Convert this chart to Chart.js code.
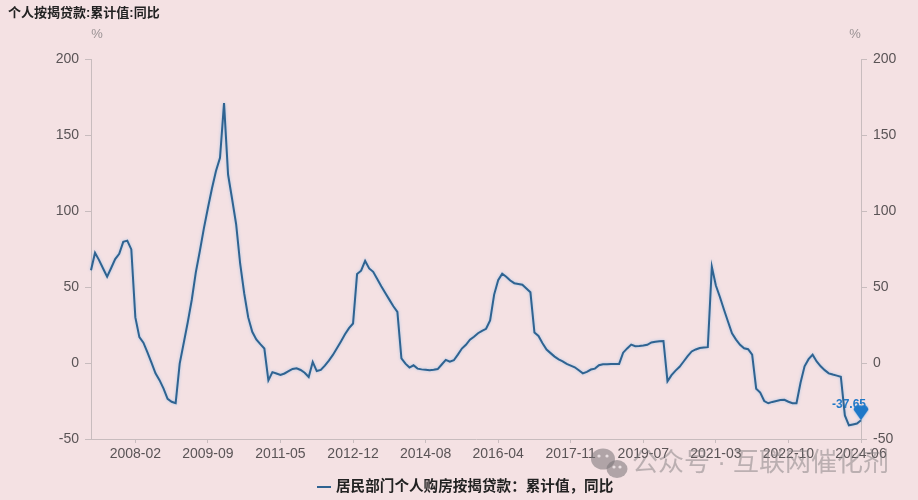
<!DOCTYPE html>
<html><head><meta charset="utf-8">
<script src="https://cdn.jsdelivr.net/npm/chart.js@4.4.1/dist/chart.umd.min.js"></script>
<style>html,body{margin:0;padding:0;background:#f4e1e3;overflow:hidden}#wrap{width:918px;height:500px;position:relative}</style>
</head><body><div id="wrap"><canvas id="c" width="918" height="500"></canvas></div>
<script>
const years = [2007,2008,2009,2010,2011,2012,2013,2014,2015,2016,2017,2018,2019,2020,2021,2022,2023,2024];
const months = ['02','03','04','05','06','07','08','09','10','11','12'];
const lastPeriod = '2024-06';
const categories = [];
for (const y of years) { for (const m of months) { const k = y + '-' + m; if (k > lastPeriod) break; categories.push(k); } }
const tickLabels = ['2008-02','2009-09','2011-05','2012-12','2014-08','2016-04','2017-11','2019-07','2021-03','2022-10','2024-06'];
const yTicks = [-50, 0, 50, 100, 150, 200];
const chartTitle = '个人按揭贷款:累计值:同比';
const unitLabel = '%';
const seriesName = '居民部门个人购房按揭贷款：累计值，同比';
const lastLabel = '-37.65';
const values = [
 61,72.5,67.7,62.2,56.8,62.5,68.4,71.8,79.7,80.5,74.7,
 30,17,13.4,7,0.2,-6.8,-11.3,-16.8,-23.6,-25.5,-26.4,
 -0.4,13.2,26.8,41.6,59.6,73.7,88.6,102,114.8,126.3,135,
 171,124,107.9,91.3,65.3,45.9,30,20.5,15.5,12.4,9.5,
 -11.4,-6,-6.9,-7.8,-6.9,-5.4,-3.9,-3.5,-4.6,-6.4,-9.2,
 0.7,-5.3,-4.5,-1.7,1.6,5.3,9.7,14.2,18.9,22.9,26,
 58.5,60.7,67.2,62.2,60,55.3,50.5,46,41.7,37.3,33.6,
 3,-0.4,-3,-1.5,-3.7,-4.2,-4.5,-4.8,-4.5,-4,-1,
 2,0.8,1.8,5.5,9.5,12,15.3,17.3,19.6,21.2,22.5,
 28,45,54.5,58.7,56.8,54.3,52.5,52,51.5,49,46.5,
 20,17.8,13,8.8,6.5,4.2,2.4,1.1,-0.6,-1.7,-2.8,
 -4.8,-6.8,-5.8,-4.3,-3.7,-1.5,-0.9,-0.8,-0.7,-0.7,-0.6,
 6.8,9.6,12.1,11,11.2,11.5,12,13.5,14,14.3,14.5,
 -12,-8,-5,-2.5,1,4.5,7.6,8.9,9.9,10.2,10.4,
 63.3,51,43.4,35.2,27.3,19.5,15.4,12,9.7,9.1,5.5,
 -16.9,-19.5,-25,-26.5,-25.6,-25,-24.4,-24.2,-25.5,-26.4,-26.4,
 -13,-2.2,2.5,5.5,1,-2.2,-4.7,-6.8,-7.6,-8.3,-9,
 -34.5,-41,-40.4,-39.8,-37.65
];

const FONT = "'Liberation Sans','Noto Sans CJK SC',sans-serif";
Chart.defaults.font.family = FONT;
const BG = '#f4e1e3';
const AXIS = '#c8bcbe';
const LINE = '#2f6391';
const PIN = '#1f78c8';
const lastIdx = values.length - 1;

// pin marker image (tip at centre)
const pin = document.createElement('canvas');
pin.width = 16; pin.height = 32;
(function(){
  const g = pin.getContext('2d');
  g.fillStyle = PIN;
  g.beginPath();
  g.arc(5, 5.5, 4.4, Math.PI, 0);
  g.arc(11, 5.5, 4.4, Math.PI, 0);
  g.lineTo(8, 16);
  g.closePath();
  g.fill();
})();

const deco = {
  id: 'deco',
  beforeDraw(chart) {
    const c = chart.ctx;
    c.save(); c.fillStyle = BG; c.fillRect(0, 0, chart.width, chart.height); c.restore();
  },
  beforeDatasetsDraw(chart) {
    const p = chart.getDatasetMeta(0).data[lastIdx];
    const c = chart.ctx;
    c.save();
    c.font = 'bold 12px ' + FONT;
    c.fillStyle = PIN;
    c.textAlign = 'right'; c.textBaseline = 'middle';
    c.fillText(lastLabel, p.x + 5, p.y - 16);
    c.restore();
  },
  beforeDatasetDraw(chart) {
    const c = chart.ctx;
    c.save();
    c.shadowColor = 'rgba(110,175,235,0.55)';
    c.shadowBlur = 3;
  },
  afterDatasetDraw(chart) { chart.ctx.restore(); },
  afterDraw(chart) {
    const c = chart.ctx;
    const a = chart.chartArea;
    c.save();
    // title
    c.fillStyle = '#222';
    c.font = 'bold 13px ' + FONT;
    c.textAlign = 'left'; c.textBaseline = 'middle';
    c.fillText(chartTitle, 8, 13);
    // units
    c.fillStyle = '#9a9294';
    c.font = '13px ' + FONT;
    c.textAlign = 'center';
    c.fillText(unitLabel, a.left + 6, 34);
    c.fillText(unitLabel, a.right - 6, 34);
    // legend
    c.strokeStyle = LINE; c.lineWidth = 2;
    c.beginPath(); c.moveTo(317, 487); c.lineTo(331, 487); c.stroke();
    c.fillStyle = '#222';
    c.font = 'bold 14.6px ' + FONT;
    c.textAlign = 'left';
    c.fillText(seriesName, 336, 487);
    // watermark
    c.fillStyle = 'rgba(120,115,118,0.55)';
    c.beginPath(); c.ellipse(603, 459, 12, 10.5, 0, 0, Math.PI * 2); c.fill();
    c.beginPath(); c.ellipse(617, 469, 10.5, 9, 0, 0, Math.PI * 2); c.fill();
    c.fillStyle = 'rgba(240,230,232,0.9)';
    [[599,456],[607,456],[614,467],[620,467]].forEach(([x,y]) => { c.beginPath(); c.arc(x, y, 1.6, 0, Math.PI*2); c.fill(); });
    c.fillStyle = 'rgba(130,125,128,0.5)';
    c.font = '26px ' + FONT;
    c.textAlign = 'left';
    c.fillText('公众号 · 互联网催化剂', 632, 464);
    c.restore();
  }
};

const axisCommon = {
  min: -50, max: 200,
  grid: { drawOnChartArea: false, drawTicks: true, tickLength: 6, color: AXIS },
  border: { display: true, color: AXIS },
  ticks: { stepSize: 50, color: '#5a5456', font: { size: 14 }, padding: 6 }
};

new Chart(document.getElementById('c'), {
  type: 'line',
  data: {
    labels: categories,
    datasets: [{
      label: seriesName,
      data: values,
      yAxisID: 'y',
      borderColor: LINE,
      borderWidth: 2,
      tension: 0,
      pointRadius: ctx => ctx.dataIndex === lastIdx ? 8 : 0,
      pointStyle: ctx => ctx.dataIndex === lastIdx ? pin : 'circle',
      pointBackgroundColor: PIN,
      pointBorderWidth: 0
    }]
  },
  options: {
    responsive: false,
    animation: false,
    devicePixelRatio: 1,
    layout: { padding: { top: 59, left: 0, right: 0, bottom: 0 } },
    plugins: { legend: { display: false }, tooltip: { enabled: false } },
    scales: {
      x: {
        type: 'category',
        grid: { drawOnChartArea: false, drawTicks: true, tickLength: 4, color: AXIS },
        border: { display: true, color: AXIS },
        ticks: {
          autoSkip: false, maxRotation: 0, minRotation: 0,
          color: '#5a5456', font: { size: 14 }, padding: 3,
          callback: (v, i) => tickLabels.includes(categories[i]) ? categories[i] : null
        },
        afterFit: s => { s.height = 61; }
      },
      y: Object.assign({}, axisCommon, { position: 'left', afterFit: s => { s.width = 91; } }),
      y2: Object.assign({}, axisCommon, { position: 'right', afterFit: s => { s.width = 57; } })
    }
  },
  plugins: [deco]
});
</script>
</body></html>
